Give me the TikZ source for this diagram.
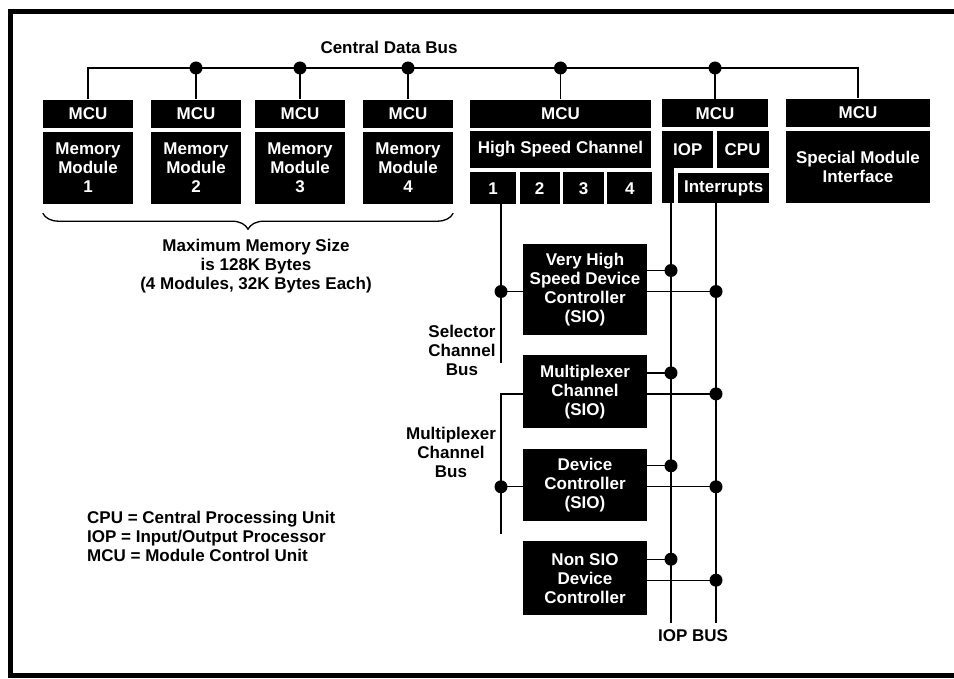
\documentclass[tikz,border=0pt]{standalone}
\usepackage{fontspec}
\setmainfont{Liberation Sans}
\usetikzlibrary{positioning, decorations.pathreplacing}

\begin{document}
\begin{tikzpicture}[
    x=1pt, y=-1pt,
    font=\bfseries\fontsize{17}{19}\selectfont,
    mcu/.style={fill=black, text=white, minimum height=28pt, inner sep=0pt},
    blk/.style={fill=black, text=white, align=center, inner sep=0pt},
    dev/.style={blk, minimum width=124pt},
    lbl/.style={align=center, inner sep=0pt},
    bus/.style={line width=1.3pt}
]
\useasboundingbox (0,0) rectangle (954,679);

% --- Marco ---
\draw[line width=5pt] (954,12) -- (10,12) -- (10,675) -- (954,675);

% --- Modulos de memoria ---
\node (mem1) [blk, minimum width=90pt, minimum height=72pt] at (88,168) {Memory\\Module\\1};
\node (mem2) [blk, minimum width=90pt, minimum height=72pt] at (196,168) {Memory\\Module\\2};
\node (mem3) [blk, minimum width=90pt, minimum height=72pt] at (300,168) {Memory\\Module\\3};
\node (mem4) [blk, minimum width=90pt, minimum height=72pt] at (408,168) {Memory\\Module\\4};
\node (mcu1) [mcu, minimum width=90pt, above=4pt of mem1] {MCU};
\node (mcu2) [mcu, minimum width=90pt, above=4pt of mem2] {MCU};
\node (mcu3) [mcu, minimum width=90pt, above=4pt of mem3] {MCU};
\node (mcu4) [mcu, minimum width=90pt, above=4pt of mem4] {MCU};

% --- Canal de alta velocidad ---
\node (hsc) [blk, minimum width=181pt, minimum height=37pt] at (560.5,149.5) {High Speed Channel};
\node (hmcu) [mcu, minimum width=181pt, above=3pt of hsc] {MCU};
\node (ch1) [blk, minimum width=46pt, minimum height=32pt, anchor=north west] at (470,172) {1};
\node (ch2) [blk, minimum width=40pt, minimum height=32pt, right=3pt of ch1] {2};
\node (ch3) [blk, minimum width=41pt, minimum height=32pt, right=3pt of ch2] {3};
\node (ch4) [blk, minimum width=45pt, minimum height=32pt, right=3pt of ch3] {4};

% --- IOP / CPU ---
\node (cmcu) [mcu, minimum width=106pt] at (715,113.5) {MCU};
\node (iop) [blk, minimum width=51pt, minimum height=37pt, anchor=north west] at (662,131) {IOP};
\node (cpu) [blk, minimum width=52pt, minimum height=37pt, right=3pt of iop] {CPU};
\fill (iop.south west) rectangle ++(12,35);
\node (ints) [blk, minimum width=91pt, minimum height=30pt, anchor=north west] at (678,173) {Interrupts};

% --- Modulo especial ---
\node (smi) [blk, minimum width=144pt, minimum height=72pt] at (858,167) {Special Module\\Interface};
\node (smcu) [mcu, minimum width=144pt, above=4pt of smi] {MCU};

% --- Controladores ---
\node (vhs) [dev, minimum height=91pt] at (585,289.5) {Very High\\Speed Device\\Controller\\(SIO)};
\node (mux) [dev, minimum height=73pt, below=20pt of vhs] {Multiplexer\\Channel\\(SIO)};
\node (devc) [dev, minimum height=72pt, below=20pt of mux] {Device\\Controller\\(SIO)};
\node (nsio) [dev, minimum height=74pt, below=20pt of devc] {Non SIO\\Device\\Controller};

% --- Textos ---
\node (cdb) [lbl] at (389,47) {Central Data Bus};
\node (maxmem) [lbl] at (256,266) {Maximum Memory Size\\is 128K Bytes\\(4 Modules, 32K Bytes Each)};
\node (selbus) [lbl] at (462,350) {Selector\\Channel\\Bus};
\node (muxbus) [lbl] at (451,452) {Multiplexer\\Channel\\Bus};
\node (iopbus) [lbl] at (693,636) {IOP BUS};
\node (legend) [lbl, align=left, anchor=west] at (87,536) {CPU = Central Processing Unit\\IOP = Input/Output Processor\\MCU = Module Control Unit};

% --- Bus central ---
\coordinate (busmid) at (400,68);
\draw[bus] (mcu1.north) |- (busmid) -| (smcu.north);
\foreach \m in {mcu2, mcu3, mcu4, hmcu, cmcu} {
    \draw[bus] (\m.north) -- (\m.north |- busmid);
    \fill (\m.north |- busmid) circle (6.5pt);
}

% --- Llave de memoria ---
\draw[bus, decorate, decoration={brace, mirror, amplitude=16pt}]
    ([yshift=-9pt]mem1.south west) -- ([yshift=-9pt]mem4.south east);

% --- Buses verticales ---
\coordinate (iopend) at (671,623);
\coordinate (intend) at (716,623);
\coordinate (selend) at (501,363);
\coordinate (muxend) at (501,534);
\draw[bus] (iopend |- ints.south) -- (iopend);
\draw[bus] (intend |- ints.south) -- (intend);
\draw[bus] (selend |- ch1.south) -- (selend);

% Controladores al IOP BUS
\foreach \dev in {vhs, mux, devc, nsio} {
    \path ([yshift=19pt]\dev.east) coordinate (up) ([yshift=-2pt]\dev.east) coordinate (lo);
    \draw[bus] (up) -- (up -| iopend);
    \fill (up -| iopend) circle (6.5pt);
    \draw[bus] (lo) -- (lo -| intend);
    \fill (lo -| intend) circle (6.5pt);
}

% Bus selector y multiplexor
\path ([yshift=-2pt]vhs.west) coordinate (vl) ([yshift=-2pt]devc.west) coordinate (dl);
\draw[bus] (vl) -- (vl -| selend);
\fill (vl -| selend) circle (6.5pt);
\draw[bus] ([yshift=-2pt]mux.west) -| (muxend);
\draw[bus] (dl) -- (dl -| muxend);
\fill (dl -| muxend) circle (6.5pt);

\end{tikzpicture}
\end{document}
